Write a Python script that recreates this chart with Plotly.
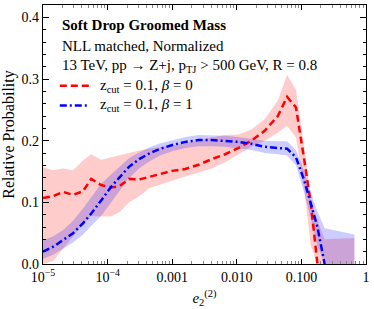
import plotly.graph_objects as go

# ---- data ----
e2 = [1.0e-5, 1.44e-5, 2.05e-5, 2.92e-5, 4.15e-5, 5.58e-5, 7.94e-5, 1.13e-4, 1.52e-4,
      2.16e-4, 3.08e-4, 4.38e-4, 6.22e-4, 1.0e-3, 1.6e-3, 2.56e-3, 4.09e-3, 6.58e-3,
      1.05e-2, 1.68e-2, 2.7e-2, 4.32e-2, 6.0e-2, 8.24e-2, 0.111, 0.14, 0.177, 0.229, 0.662]

red_mid = [0.107, 0.110, 0.117, 0.112, 0.118, 0.138, 0.128, 0.124, 0.126, 0.138, 0.137,
           0.141, 0.146, 0.151, 0.154, 0.161, 0.170, 0.178, 0.188, 0.200, 0.216, 0.240,
           0.271, 0.254, 0.168, 0.098, 0.0]
red_hi = [0.157, 0.152, 0.155, 0.152, 0.168, 0.178, 0.169, 0.173, 0.177, 0.181, 0.184,
          0.187, 0.189, 0.192, 0.196, 0.201, 0.205, 0.209, 0.210, 0.218, 0.235, 0.265,
          0.307, 0.283, 0.189, 0.103, 0.070, 0.040, 0.042]
red_lo = [0.0, 0.005, 0.025, 0.045, 0.065, 0.078, 0.077, 0.077, 0.084, 0.100, 0.110,
          0.123, 0.128, 0.135, 0.142, 0.149, 0.155, 0.165, 0.178, 0.190, 0.200, 0.213,
          0.224, 0.205, 0.120, 0.030, 0.0, 0.0, 0.0]

blue_mid = [0.020, 0.028, 0.039, 0.050, 0.066, 0.082, 0.103, 0.125, 0.140, 0.158, 0.170,
            0.179, 0.186, 0.193, 0.198, 0.201, 0.201, 0.200, 0.198, 0.195, 0.190, 0.188,
            0.187, 0.173, 0.135, 0.098, 0.060, 0.0]
blue_hi = [0.038, 0.045, 0.055, 0.070, 0.090, 0.108, 0.130, 0.145, 0.158, 0.172, 0.181,
           0.189, 0.195, 0.201, 0.206, 0.209, 0.209, 0.208, 0.206, 0.203, 0.200, 0.199,
           0.199, 0.185, 0.150, 0.115, 0.085, 0.058, 0.048]
blue_lo = [0.008, 0.015, 0.025, 0.035, 0.048, 0.062, 0.078, 0.100, 0.118, 0.140, 0.155,
           0.166, 0.175, 0.183, 0.188, 0.191, 0.191, 0.190, 0.188, 0.185, 0.180, 0.178,
           0.176, 0.160, 0.115, 0.075, 0.030, 0.0, 0.0]

x_tickvals = [1e-5, 1e-4, 1e-3, 1e-2, 1e-1, 1]
x_ticktext = ["10<sup>\u22125</sup>", "10<sup>\u22124</sup>", "0.001", "0.010", "0.100", "1"]
y_tickvals = [0.0, 0.1, 0.2, 0.3, 0.4]
y_ticktext = ["0.0", "0.1", "0.2", "0.3", "0.4"]

FONT = "Liberation Serif"
fig = go.Figure()

fig.add_trace(go.Scatter(x=e2 + e2[::-1], y=red_hi + red_lo[::-1], fill="toself",
                         fillcolor="rgba(255,0,0,0.2)", line=dict(width=0),
                         mode="lines", hoverinfo="skip", showlegend=False))
fig.add_trace(go.Scatter(x=e2 + e2[::-1], y=blue_hi + blue_lo[::-1], fill="toself",
                         fillcolor="rgba(0,0,255,0.2)", line=dict(width=0),
                         mode="lines", hoverinfo="skip", showlegend=False))
fig.add_trace(go.Scatter(x=e2[:len(red_mid)], y=red_mid, mode="lines",
                         line=dict(color="#ff0000", width=2.5, dash="7px,4px"),
                         showlegend=False))
fig.add_trace(go.Scatter(x=e2[:len(blue_mid)], y=blue_mid, mode="lines",
                         line=dict(color="#0000ff", width=2.5, dash="7px,3px,2px,3px"),
                         showlegend=False))

minor_x = [m * 10.0**d for d in range(-5, 0) for m in range(2, 10)]

axis_common = dict(showline=True, linecolor="black", linewidth=1.2, mirror="allticks",
                   ticks="inside", tickcolor="black", showgrid=False, zeroline=False,
                   tickfont=dict(family=FONT, size=14, color="black"))

fig.update_xaxes(type="log", range=[-5, 0], tickvals=x_tickvals, ticktext=x_ticktext,
                 ticklen=5, tickwidth=1,
                 minor=dict(ticks="inside", tickvals=minor_x, ticklen=3, tickcolor="#888"),
                 title=dict(text="<i>e</i><sub>2</sub><sup>(2)</sup>",
                            font=dict(family=FONT, size=15, color="black"), standoff=8),
                 **axis_common)
fig.update_yaxes(range=[0, 0.42], tickvals=y_tickvals, ticktext=y_ticktext,
                 ticklen=6, tickwidth=1,
                 minor=dict(ticks="inside", dtick=0.02, ticklen=3, tickcolor="black"),
                 title=dict(text="Relative Probability",
                            font=dict(family=FONT, size=16, color="black"), standoff=2),
                 **axis_common)

ann = [
    dict(text="<b>Soft Drop Groomed Mass</b>", y=0.923),
    dict(text="NLL matched, Normalized", y=0.842),
    dict(text="13 TeV, pp \u2192 Z+j, p<sub>TJ</sub> > 500 GeV, R = 0.8", y=0.765),
]
for a in ann:
    fig.add_annotation(x=0.052, y=a["y"], xref="paper", yref="paper", text=a["text"],
                       showarrow=False, xanchor="left", yanchor="middle",
                       font=dict(family=FONT, size=15, color="black"))
leg = [("z<sub>cut</sub> = 0.1, <i>\u03b2</i> = 0", 0.688, "#ff0000", "7px,4px"),
       ("z<sub>cut</sub> = 0.1, <i>\u03b2</i> = 1", 0.612, "#0000ff", "7px,3px,2px,3px")]
for txt, yy, col, dash in leg:
    fig.add_shape(type="line", xref="paper", yref="paper", x0=0.052, x1=0.144, y0=yy, y1=yy,
                  line=dict(color=col, width=2.5, dash=dash))
    fig.add_annotation(x=0.169, y=yy, xref="paper", yref="paper", text=txt,
                       showarrow=False, xanchor="left", yanchor="middle",
                       font=dict(family=FONT, size=15, color="black"))

fig.update_layout(width=374, height=309, margin=dict(l=43, r=5, t=4, b=45),
                  plot_bgcolor="white", paper_bgcolor="white", showlegend=False,
                  font=dict(family=FONT, color="black"))

fig.write_html("out.html", config={"displayModeBar": False},
               post_script="document.body.style.margin='0px';")
